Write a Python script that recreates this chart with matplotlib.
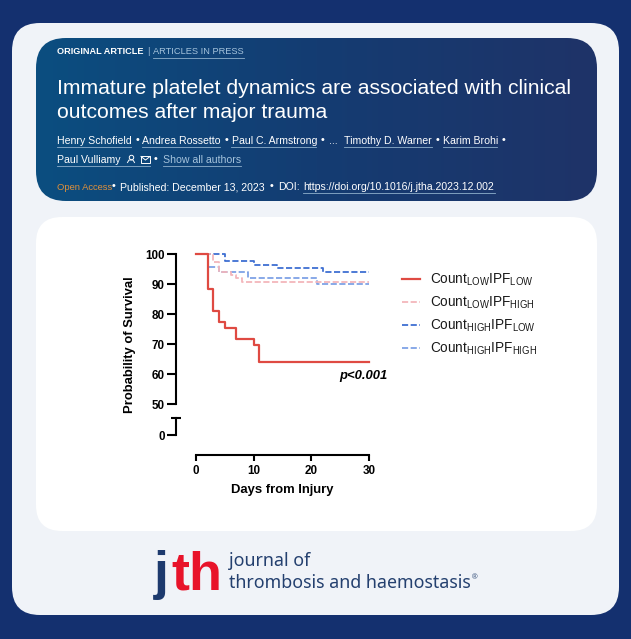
import numpy as np
import matplotlib
matplotlib.use("Agg")
import matplotlib.pyplot as plt
from matplotlib.patches import FancyBboxPatch

W, H = 631, 639
plt.rcParams['font.family'] = ['Liberation Sans', 'DejaVu Sans']
plt.rcParams['mathtext.fontset'] = 'custom'
plt.rcParams['mathtext.rm'] = 'Liberation Sans'
plt.rcParams['mathtext.default'] = 'rm'

# ---- data (days, survival %) ----
red_days = [0, 2, 3, 4, 5, 7, 10, 11, 30]
red_surv = [100, 88.6, 81.1, 77.3, 75.4, 71.7, 69.8, 64.1, 64.1]
pink_days = [0, 3, 4, 6, 7, 8, 30]
pink_surv = [100, 97.6, 94, 93, 92, 90.7, 90.7]
blue_days = [0, 5, 10, 14, 22, 30]
blue_surv = [100, 97.8, 96.5, 95.3, 94, 94]
lblue_days = [0, 2, 4, 9, 21, 30]
lblue_surv = [100, 95.9, 94, 92, 90, 90]

series_names = [r"Count$_{\mathrm{LOW}}$IPF$_{\mathrm{LOW}}$",
                r"Count$_{\mathrm{LOW}}$IPF$_{\mathrm{HIGH}}$",
                r"Count$_{\mathrm{HIGH}}$IPF$_{\mathrm{LOW}}$",
                r"Count$_{\mathrm{HIGH}}$IPF$_{\mathrm{HIGH}}$"]
y_ticks_upper = [50, 60, 70, 80, 90, 100]
y_ticks_lower = [0]
x_ticks = [0, 10, 20, 30]

title_lines = ["Immature platelet dynamics are associated with clinical",
               "outcomes after major trauma"]

fig = plt.figure(figsize=(W / 100, H / 100), dpi=100, facecolor='#14306f')


def px_axes(x0, y0, x1, y1, **kw):
    """Axes from pixel box (top-left origin)."""
    return fig.add_axes([x0 / W, 1 - y1 / H, (x1 - x0) / W, (y1 - y0) / H], **kw)


bg = px_axes(0, 0, W, H)
bg.set_xlim(0, W)
bg.set_ylim(H, 0)
bg.axis('off')


def rbox(x0, y0, x1, y1, r, fc, z=1):
    p = FancyBboxPatch((x0 + r, y0 + r), x1 - x0 - 2 * r, y1 - y0 - 2 * r,
                       boxstyle=f"round,pad={r},rounding_size={r}",
                       fc=fc, ec='none', zorder=z)
    bg.add_patch(p)
    return p


rbox(12, 23, 619, 615, 28, '#f0f3f8', 1)
head = rbox(36, 38, 597, 201, 30, 'none', 2)
grad = np.linspace(0, 1, 256)[None, :]
cmap = matplotlib.colors.LinearSegmentedColormap.from_list(
    'h', ['#0b4e80', '#143c72', '#1f3368'])
im = bg.imshow(grad, extent=(36, 597, 201, 38), cmap=cmap, aspect='auto', zorder=2)
im.set_clip_path(head)
bg.set_xlim(0, W)
bg.set_ylim(H, 0)
rbox(36, 217, 597, 531, 26, '#ffffff', 2)


def t(x, y, s, size, color='white', **kw):
    kw.setdefault('va', 'center')
    return bg.text(x, y, s, fontsize=size * 0.72, color=color, zorder=3, **kw)


def u(x0, x1, y, color='#8fb0cc'):
    bg.plot([x0, x1], [y, y], color=color, lw=0.6, zorder=3)


def dot(x, y):
    t(x, y, "•", 11, ha='center')


AU = 10.5
t(57, 52, "ORIGINAL ARTICLE", 9.2, fontweight='bold')
t(147, 52, "|", 9.4, color='#9fbdd6')
t(153, 52, "ARTICLES IN PRESS", 9.3, color='#a5c3dc')
u(153, 244, 57.5)
t(57, 88, title_lines[0], 21.2)
t(57, 112, title_lines[1], 21.2)

t(57, 141, "Henry Schofield", AU); u(57, 131, 146.5)
dot(137.5, 140)
t(142, 141, "Andrea Rossetto", AU); u(142, 220, 146.5)
dot(226.5, 140)
t(231.5, 141, "Paul C. Armstrong", AU); u(231, 316, 146.5)
dot(322.5, 140)
t(329, 141, "...", AU)
t(344, 141, "Timothy D. Warner", AU); u(344, 432, 146.5)
dot(438, 140)
t(443, 141, "Karim Brohi", AU); u(443, 497, 146.5)
dot(504, 140)
t(57, 160, "Paul Vulliamy", AU); u(57, 150, 165.5)
dot(156, 159)
t(163, 160, "Show all authors", AU, color='#a5c3dc'); u(163, 241, 165.5)
t(57, 187, "Open Access", 9.4, color='#e0903a')
dot(113.5, 186)
t(120, 187, "Published: December 13, 2023", AU)
dot(271.5, 186)
t(278, 187, "DOI:", AU)
t(303, 187, "https://doi.org/10.1016/j.jtha.2023.12.002", AU); u(303, 495, 192.5)

# person / mail icons as small marks
bg.plot([131], [156.5], marker='o', ms=3.2, mfc='none', mec='white', mew=0.7, zorder=3)
bg.plot([127.5, 129, 133, 134.5], [162.5, 160, 160, 162.5], color='white', lw=0.7, zorder=3)
bg.add_patch(plt.Rectangle((141, 156), 9, 6.5, fc='none', ec='white', lw=0.7, zorder=3))
bg.plot([141, 145.5, 150], [156.5, 160, 156.5], color='white', lw=0.7, zorder=3)

# journal logo
t(154, 589, "j", 54, color='#1d3a6e', fontweight='bold', va='baseline')
t(171, 589, "th", 54, color='#e8132a', fontweight='bold', va='baseline')
t(229, 561, "journal of", 17.8, color='#24406f', family='Noto Sans')
t(229, 583, "thrombosis and haemostasis", 17.8, color='#24406f', family='Noto Sans')
t(472, 578, "®", 7.5, color='#24406f')

# ---- chart ----
XL, XR = 196, 368.7
ax = px_axes(XL, 254.3, XR, 404.3)
low = px_axes(XL, 418.3, XR, 435)
for a in (ax, low):
    a.patch.set_alpha(0)
    a.set_xlim(0, 30)
    a.spines[['top', 'right']].set_visible(False)
    a.spines['left'].set_position(('outward', 14.4))
    a.spines['left'].set_linewidth(1.5)
    a.tick_params(axis='y', which='major', direction='out', length=6.5, width=1.5,
                  labelsize=8.4, pad=1.5)
    a.tick_params(axis='y', which='minor', direction='in', length=3.3, width=1.5)
    a.tick_params(axis='x', which='minor', length=0)

ax.set_ylim(50, 100)
ax.set_yticks(y_ticks_upper)
ax.set_yticklabels([str(v) for v in y_ticks_upper], fontweight='bold')
ax.set_yticks([50], minor=True)
ax.spines['bottom'].set_visible(False)
ax.set_xticks([])
ax.set_ylabel("Probability of Survival", fontsize=9.4, fontweight='bold')
ax.yaxis.set_label_coords(-0.348, 0.40)

low.set_ylim(0, 5.57)
low.set_yticks(y_ticks_lower)
low.set_yticklabels([str(v) for v in y_ticks_lower], fontweight='bold')
low.set_yticks([5.57], minor=True)
low.tick_params(axis='y', which='minor', direction='inout', length=6.5, width=1.5)
low.spines['bottom'].set_position(('outward', 14.4))
low.spines['bottom'].set_linewidth(1.5)
low.set_xticks(x_ticks)
low.set_xticklabels([str(v) for v in x_ticks], fontweight='bold')
low.tick_params(axis='x', which='major', direction='out', length=4.5, width=1.5,
                labelsize=8.4, pad=2.5)
low.set_xlabel("Days from Injury", fontsize=9.4, fontweight='bold', labelpad=5.5)

styles = [
    (blue_days, blue_surv, '#3f6fd2', (3.4, 1.4), 1.3, 2),
    (lblue_days, lblue_surv, '#7fa2e6', (3.4, 1.4), 1.3, 2),
    (pink_days, pink_surv, '#f3b6bb', (3.4, 1.4), 1.3, 3),
    (red_days, red_surv, '#df4a42', None, 1.6, 4),
]
handles = {}
for d, s, c, dash, lw, z in styles:
    line, = ax.step(d, s, where='post', color=c, lw=lw, zorder=z, clip_on=False)
    if dash:
        line.set_dashes(dash)
    handles[c] = line

ax.text(33.35, 59.4, "p<0.001", fontsize=9.4, fontweight='bold', fontstyle='italic',
        ha='right', va='center', clip_on=False)

leg = ax.legend([handles['#df4a42'], handles['#f3b6bb'], handles['#3f6fd2'], handles['#7fa2e6']],
                series_names, loc='upper left', bbox_to_anchor=(402 / W, 1 - 272 / H),
                bbox_transform=fig.transFigure, frameon=False, fontsize=9.8,
                handlelength=1.33, handletextpad=0.73, labelspacing=0.47,
                borderpad=0, borderaxespad=0)
for txt in leg.get_texts():
    txt.set_color('#1a1a1a')

fig.savefig("out.png", dpi=100, facecolor=fig.get_facecolor())
